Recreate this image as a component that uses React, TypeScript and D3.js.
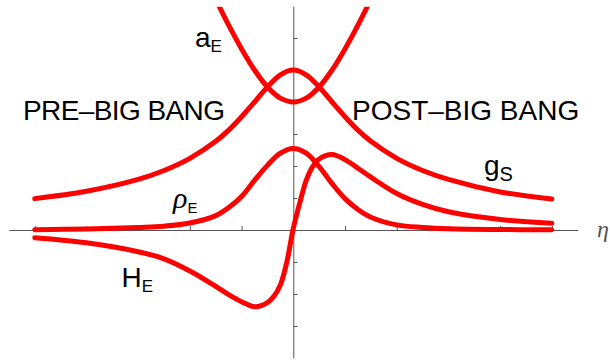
import React, { useEffect, useRef } from "react";
import * as d3 from "d3";

// conformal time samples and the curves
const etaA = [-1.75, -1.5, -1.25, -1, -0.75, -0.5, -0.25, 0, 0.25, 0.5, 0.75, 1, 1.25, 1.5, 1.75];
const aE = [8.06, 7.21, 6.4, 5.66, 5.0, 4.47, 4.12, 4.0, 4.12, 4.47, 5.0, 5.66, 6.4, 7.21, 8.06];

const etaG = [-5, -4, -3, -2.5, -2, -1.5, -1.25, -1, -0.75, -0.5, -0.25, 0, 0.25, 0.5, 0.75, 1, 1.25, 1.5, 2, 2.5, 3, 4, 5];
const gS = [0.98, 1.21, 1.58, 1.86, 2.24, 2.77, 3.12, 3.54, 4.0, 4.47, 4.85, 5.0, 4.85, 4.47, 4.0, 3.54, 3.12, 2.77, 2.24, 1.86, 1.58, 1.19, 0.97];
const rhoE = [0.01, 0.03, 0.08, 0.12, 0.22, 0.45, 0.7, 1.05, 1.55, 2.02, 2.4, 2.55, 2.4, 1.98, 1.45, 0.98, 0.64, 0.4, 0.16, 0.08, 0.04, 0.015, 0.01];

const etaH = [-5, -4, -3, -2.5, -2, -1.5, -1.25, -1, -0.75, -0.5, -0.375, -0.25, -0.125, 0, 0.125, 0.25, 0.375, 0.5, 0.75, 1, 1.25, 1.5, 2, 2.5, 3, 4, 5];
const hE = [-0.24, -0.4, -0.68, -0.9, -1.28, -1.76, -2.02, -2.24, -2.4, -2.27, -2.07, -1.72, -1.0, 0.05, 0.85, 1.55, 1.98, 2.22, 2.36, 2.2, 1.93, 1.65, 1.14, 0.8, 0.57, 0.33, 0.21];

const xTicks = [-5, -4, -3, -2, -1, 1, 2, 3, 4, 5];
const yTicks = [-3, -2, -1, 1, 2, 3, 4, 5, 6];

const W = 610, H = 360;

export default function App() {
  const xAxisRef = useRef<SVGGElement>(null);
  const yAxisRef = useRef<SVGGElement>(null);

  const x = d3.scaleLinear().domain([-5.5, 5.5]).range([8.9, 577.7]);
  const y = d3.scaleLinear().domain([-4, 7]).range([358, 6]);

  useEffect(() => {
    const xa = d3.axisBottom(x).tickValues(xTicks).tickSizeInner(-4).tickSizeOuter(0).tickFormat(() => "");
    const ya = d3.axisLeft(y).tickValues(yTicks).tickSizeInner(-4).tickSizeOuter(0).tickFormat(() => "");
    const gx = d3.select(xAxisRef.current!).call(xa as any);
    const gy = d3.select(yAxisRef.current!).call(ya as any);
    [gx, gy].forEach(g => {
      g.select(".domain").attr("stroke", "#555").attr("stroke-width", 1);
      g.selectAll(".tick line").attr("stroke", "#555").attr("stroke-width", 1);
    });
  }, []);

  const line = (xs: number[], ys: number[]) =>
    d3.line<number>()
      .x((_, i) => x(xs[i]))
      .y(d => y(d))
      .curve(d3.curveCatmullRom.alpha(0.5))(ys) || "";

  const curves = [
    line(etaA, aE),
    line(etaG, gS),
    line(etaG, rhoE),
    line(etaH, hE),
  ];

  const sans = "'Liberation Sans', Arial, sans-serif";
  const serif = "'Liberation Serif', 'Times New Roman', serif";

  return (
    <svg width={W} height={H} style={{ position: "absolute", left: 0, top: 0, background: "#fff" }}>
      <defs>
        <clipPath id="plot">
          <rect x={0} y={y(6.98)} width={W} height={y(-4) - y(6.98)} />
        </clipPath>
      </defs>
      <g ref={xAxisRef} transform={`translate(0,${y(0)})`} />
      <g ref={yAxisRef} transform={`translate(${x(0)},0)`} />
      <g clipPath="url(#plot)">
        {curves.map((d, i) => (
          <path key={i} d={d} fill="none" stroke="#ff0000" strokeWidth={5} strokeLinecap="round" strokeLinejoin="round" />
        ))}
      </g>
      <g fontFamily={sans} fill="#000">
        <text x={195} y={46.7} fontSize={28}>a<tspan dy={5} fontSize={17}>E</tspan></text>
        <text x={23} y={120} fontSize={28} textLength={202} lengthAdjust="spacing">PRE–BIG BANG</text>
        <text x={352} y={119.5} fontSize={28}>POST–BIG BANG</text>
        <text x={484} y={175} fontSize={28}>g<tspan dy={5.5} fontSize={20}>S</tspan></text>
        <text x={121.5} y={286.7} fontSize={28}>H<tspan dy={5.5} fontSize={17}>E</tspan></text>
        <text x={173} y={208} fontSize={30} fontFamily={serif} fontStyle="italic">ρ<tspan dy={5} fontSize={15} fontFamily={sans} fontStyle="normal">E</tspan></text>
      </g>
      <text x={597} y={236.5} fontSize={24} fontFamily={serif} fontStyle="italic" fill="#555">η</text>
    </svg>
  );
}
